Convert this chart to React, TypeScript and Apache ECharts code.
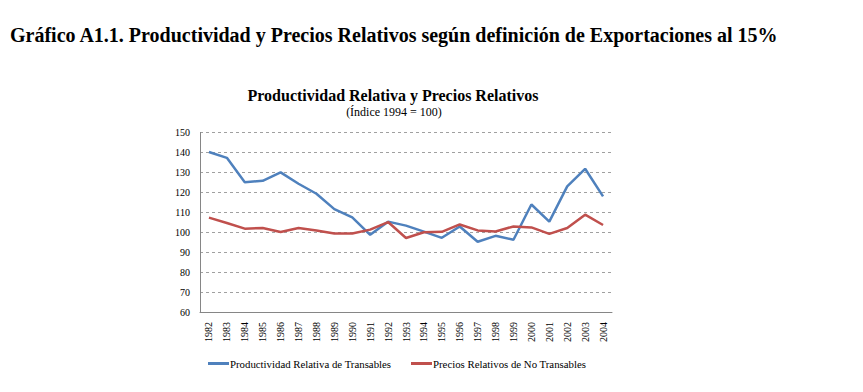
import React, { useEffect, useRef } from "react";
import * as echarts from "echarts";

const years = ["1982","1983","1984","1985","1986","1987","1988","1989","1990","1991","1992","1993","1994","1995","1996","1997","1998","1999","2000","2001","2002","2003","2004"];
const productividad = [140.2, 137.3, 125.1, 125.8, 130.0, 124.3, 119.3, 111.6, 107.4, 98.7, 105.3, 103.3, 100.3, 97.2, 102.9, 95.2, 98.2, 96.2, 113.9, 105.3, 123.0, 131.8, 118.0];
const precios = [107.3, 104.6, 101.8, 102.1, 100.1, 102.1, 100.9, 99.4, 99.4, 101.3, 105.1, 97.1, 100.0, 100.2, 103.9, 100.9, 100.4, 102.9, 102.4, 99.2, 102.1, 108.8, 103.6];
const seriesNames = ["Productividad Relativa de Transables", "Precios Relativos de No Transables"];

const FONT = "'Liberation Serif', 'Times New Roman', serif";

export default function App() {
  const ref = useRef<HTMLDivElement>(null);
  useEffect(() => {
    if (!ref.current) return;
    const chart = echarts.init(ref.current, undefined, { renderer: "svg" });
    chart.setOption({
      animation: false,
      backgroundColor: "#ffffff",
      title: [
        {
          text: "Gráfico A1.1. Productividad y Precios Relativos según definición de Exportaciones al 15%",
          left: 10,
          top: 25,
          padding: 0,
          textStyle: { fontFamily: FONT, fontSize: 20, fontWeight: "bold", color: "#000" },
        },
        {
          text: "Productividad Relativa y Precios Relativos",
          left: 393,
          textAlign: "center",
          top: 87,
          padding: 0,
          textStyle: { fontFamily: FONT, fontSize: 16, lineHeight: 17, fontWeight: "bold", color: "#000" },
        },
        {
          text: "(Índice 1994 = 100)",
          left: 394,
          textAlign: "center",
          top: 105,
          padding: 0,
          textStyle: { fontFamily: FONT, fontSize: 12, lineHeight: 13, fontWeight: "normal", color: "#000" },
        },
      ],
      legend: [
        {
          data: [seriesNames[0]],
          left: 208,
          top: 358,
          padding: 0,
          icon: "rect",
          itemWidth: 21,
          itemHeight: 3,
          textStyle: { fontFamily: FONT, fontSize: 10.8, color: "#000", padding: [0, 0, 0, -4] },
        },
        {
          data: [seriesNames[1]],
          left: 411,
          top: 358,
          padding: 0,
          icon: "rect",
          itemWidth: 21,
          itemHeight: 3,
          textStyle: { fontFamily: FONT, fontSize: 10.8, color: "#000", padding: [0, 0, 0, -4] },
        },
      ],
      grid: { left: 200, top: 132.5, width: 412, height: 179.5, containLabel: false },
      xAxis: {
        type: "category",
        data: years,
        boundaryGap: true,
        axisLine: { lineStyle: { color: "#868686", width: 1 } },
        axisTick: { show: false },
        axisLabel: { rotate: 90, fontFamily: FONT, fontSize: 10, color: "#000", margin: 10, interval: 0 },
      },
      yAxis: {
        type: "value",
        min: 60,
        max: 150,
        interval: 10,
        axisLine: { show: true, lineStyle: { color: "#868686", width: 1 } },
        axisTick: { show: false },
        axisLabel: { fontFamily: FONT, fontSize: 10, color: "#000", margin: 10 },
        splitLine: { lineStyle: { color: "#a0a0a0", type: [3, 3], width: 1 } },
      },
      series: [
        {
          name: seriesNames[0],
          type: "line",
          data: productividad,
          symbol: "none",
          lineStyle: { color: "#4F81BD", width: 2.5 },
          itemStyle: { color: "#4F81BD" },
        },
        {
          name: seriesNames[1],
          type: "line",
          data: precios,
          symbol: "none",
          lineStyle: { color: "#C0504D", width: 2.5 },
          itemStyle: { color: "#C0504D" },
        },
      ],
    });
    return () => chart.dispose();
  }, []);
  return <div ref={ref} style={{ position: "fixed", left: 0, top: 0, width: 863, height: 392 }} />;
}
